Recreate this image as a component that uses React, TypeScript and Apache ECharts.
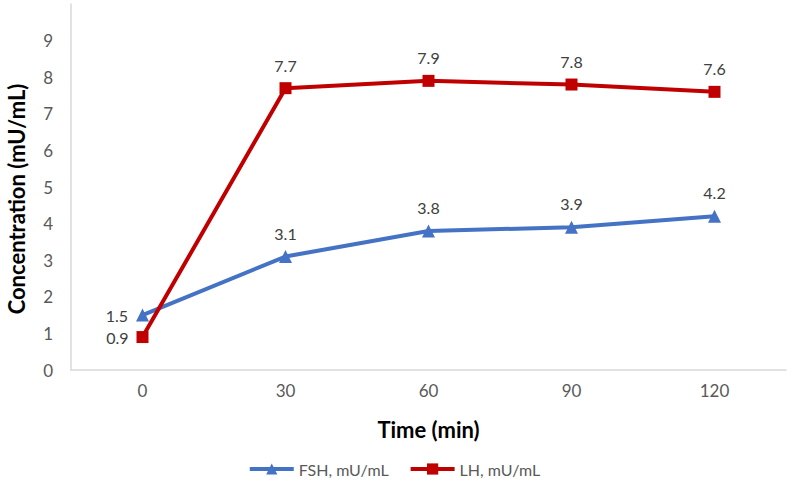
import React, { useEffect, useRef } from "react";
import * as echarts from "echarts";

const categories = ["0", "30", "60", "90", "120"];
const fshValues = [1.5, 3.1, 3.8, 3.9, 4.2];
const lhValues = [0.9, 7.7, 7.9, 7.8, 7.6];
const fshName = "FSH, mU/mL";
const lhName = "LH, mU/mL";
const yTitle = "Concentration (mU/mL)";
const xTitle = "Time (min)";

const FONT = "Lato, 'Open Sans', sans-serif";

export default function App() {
  const ref = useRef<HTMLDivElement>(null);
  useEffect(() => {
    if (!ref.current) return;
    const chart = echarts.init(ref.current, null, { renderer: "svg" });
    const mk = (vals: number[]) =>
      vals.map((v, i) =>
        i === 0 ? { value: v, label: { position: "left", distance: 8 } } : { value: v }
      );
    const label = {
      show: true,
      position: "top",
      distance: 9,
      fontSize: 16,
      color: "#404040",
      fontFamily: FONT,
    };
    chart.setOption({
      animation: false,
      backgroundColor: "#ffffff",
      grid: { left: 71, right: 2, top: 4, bottom: 114, containLabel: false },
      graphic: [
        {
          type: "text",
          x: 16,
          y: 199,
          rotation: Math.PI / 2,
          style: {
            text: yTitle,
            fontSize: 22,
            fontWeight: "bold",
            fill: "#000000",
            fontFamily: FONT,
            align: "center",
            verticalAlign: "middle",
          },
        },
      ],
      legend: {
        bottom: 2,
        left: "center",
        itemWidth: 44,
        itemHeight: 14,
        itemGap: 20,
        lineStyle: { width: 4 },
        textStyle: { fontSize: 16, color: "#595959", fontFamily: FONT },
        data: [fshName, lhName],
      },
      xAxis: {
        type: "category",
        data: categories,
        boundaryGap: true,
        axisLine: { lineStyle: { color: "#d9d9d9", width: 1.5 } },
        axisTick: { show: false },
        axisLabel: { fontSize: 17, color: "#595959", fontFamily: FONT, margin: 12 },
        name: xTitle,
        nameLocation: "middle",
        nameGap: 48,
        nameTextStyle: { fontSize: 22, fontWeight: "bold", color: "#000000", fontFamily: FONT },
      },
      yAxis: {
        type: "value",
        min: 0,
        max: 10,
        interval: 1,
        splitLine: { show: false },
        axisLine: { show: true, lineStyle: { color: "#d9d9d9", width: 1.5 } },
        axisTick: { show: false },
        axisLabel: {
          fontSize: 17,
          color: "#595959",
          fontFamily: FONT,
          margin: 18,
          showMaxLabel: false,
        },
      },
      series: [
        {
          name: fshName,
          type: "line",
          data: mk(fshValues),
          symbol: "triangle",
          symbolSize: 13,
          lineStyle: { color: "#4472C4", width: 4 },
          itemStyle: { color: "#4472C4" },
          label,
        },
        {
          name: lhName,
          type: "line",
          data: mk(lhValues),
          symbol: "rect",
          symbolSize: 12,
          lineStyle: { color: "#C00000", width: 4 },
          itemStyle: { color: "#C00000" },
          label,
        },
      ],
    });
    return () => chart.dispose();
  }, []);
  return <div ref={ref} style={{ width: 788, height: 484, position: "absolute", left: 0, top: 0 }} />;
}
